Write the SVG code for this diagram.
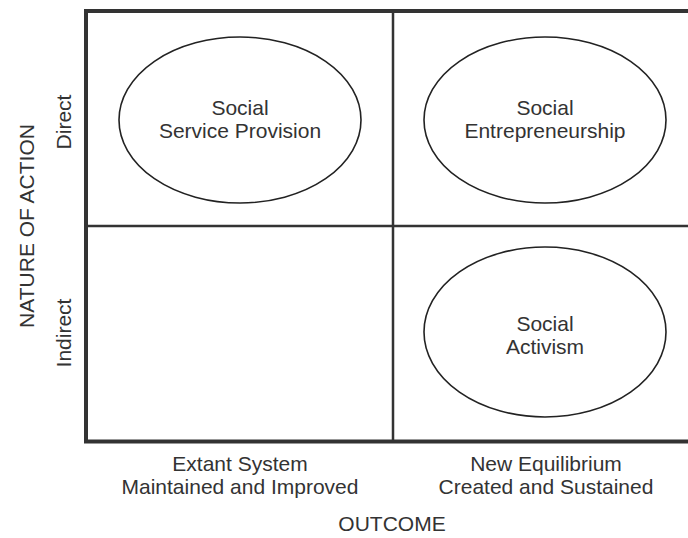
<svg xmlns="http://www.w3.org/2000/svg" width="688" height="538" viewBox="0 0 688 538">
<style>
.frame{stroke:#333;stroke-width:4;fill:none}
.div{stroke:#333;stroke-width:2.5;fill:none}
.node{fill:#fff;stroke:#222;stroke-width:1.6}
text{font-family:"Liberation Sans",Arial,sans-serif;font-size:21px;fill:#333;text-anchor:middle}
</style>
<rect width="688" height="538" fill="#fff"/>
<g id="grid">
<path class="frame" d="M692 11 H86 V441.5 H692"/>
<path class="div" d="M393 13 V440 M88 226 H688"/>
</g>
<g id="connectors"></g>
<g id="n-service">
<ellipse class="node" cx="240" cy="120" rx="121" ry="83"/>
<text x="240" y="115">Social</text>
<text x="240" y="138">Service Provision</text>
</g>
<g id="n-entrepreneurship">
<ellipse class="node" cx="545" cy="120" rx="121" ry="83"/>
<text x="545" y="115">Social</text>
<text x="545" y="138">Entrepreneurship</text>
</g>
<g id="n-activism">
<ellipse class="node" cx="545" cy="332" rx="121" ry="85"/>
<text x="545" y="331">Social</text>
<text x="545" y="354">Activism</text>
</g>
<g id="axis-y">
<text transform="translate(34 226) rotate(-90)">NATURE OF ACTION</text>
<text transform="translate(71 122) rotate(-90)">Direct</text>
<text transform="translate(71 333) rotate(-90)">Indirect</text>
</g>
<g id="axis-x">
<text x="240" y="471">Extant System</text>
<text x="240" y="494">Maintained and Improved</text>
<text x="546" y="471">New Equilibrium</text>
<text x="546" y="494">Created and Sustained</text>
<text x="392" y="531">OUTCOME</text>
</g>
</svg>
